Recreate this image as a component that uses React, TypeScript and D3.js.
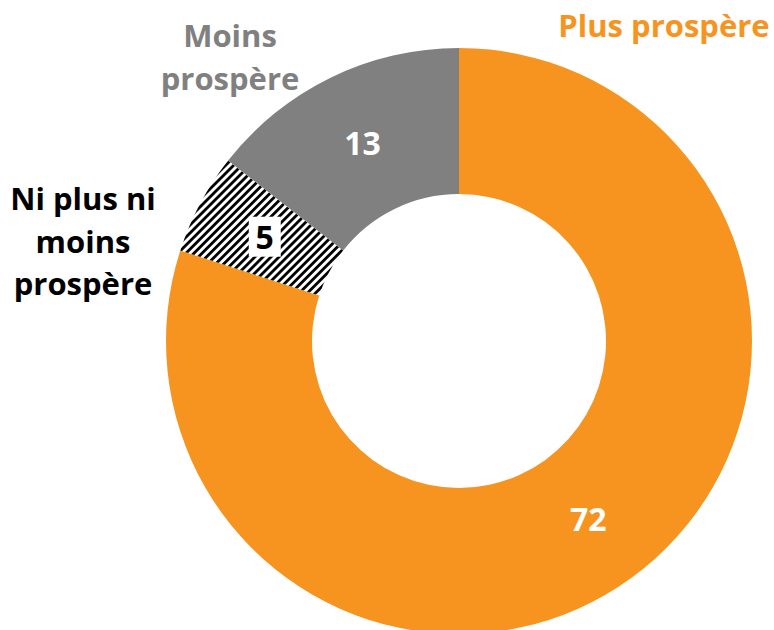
import { useMemo } from "react";
import * as d3 from "d3";

const categories = ["Plus prospère", "Ni plus ni moins prospère", "Moins prospère"];
const values = [72, 5, 13];
const labelLines = [["Plus prospère"], ["Ni plus ni", "moins", "prospère"], ["Moins", "prospère"]];

const ORANGE = "#F7941F";
const GREY = "#808080";

export default function App() {
  const width = 774;
  const height = 630;
  const cx = 459;
  const cy = 341;
  const outerR = 293;
  const innerR = 147;

  const arcs = useMemo(() => {
    const pie = d3
      .pie<number>()
      .sort(null)
      .value((d) => d);
    return pie(values);
  }, []);

  const arcGen = d3.arc<d3.PieArcDatum<number>>().innerRadius(innerR).outerRadius(outerR);

  const fills = [ORANGE, "url(#hatch)", GREY];
  const numberColors = ["#ffffff", "#000000", "#ffffff"];

  // outside labels, placed by hand like the original
  const labelPos = [
    { x: 664, y: 37, anchor: "middle", color: ORANGE },
    { x: 83, y: 210, anchor: "middle", color: "#000000" },
    { x: 230, y: 47, anchor: "middle", color: GREY },
  ];
  const lineGap = 42.5;

  const font = "'Open Sans', sans-serif";

  return (
    <svg
      width={width}
      height={height}
      style={{ position: "absolute", left: 0, top: 0, background: "#fff" }}
    >
      <defs>
        <pattern
          id="hatch"
          patternUnits="userSpaceOnUse"
          width={5.7}
          height={5.7}
          patternTransform="rotate(45)"
        >
          <rect width={5.7} height={5.7} fill="#fff" />
          <line x1={1.4} y1={0} x2={1.4} y2={5.7} stroke="#000" strokeWidth={2.8} />
        </pattern>
      </defs>

      <g transform={`translate(${cx},${cy})`}>
        {arcs.map((a, i) => (
          <path key={categories[i]} d={arcGen(a) ?? ""} fill={fills[i]} />
        ))}
        {arcs.map((a, i) => {
          const [x, y] = arcGen.centroid(a);
          return (
            <g key={`${categories[i]}-num`} transform={`translate(${x},${y})`}>
              {i === 1 && <rect x={-16} y={-21} width={32} height={40} fill="#fff" />}
              <text
                textAnchor="middle"
                dy="0.36em"
                fontFamily={font}
                fontWeight={700}
                fontSize={32}
                fill={numberColors[i]}
              >
                {values[i]}
              </text>
            </g>
          );
        })}
      </g>

      {labelLines.map((lines, i) => (
        <text
          key={`${categories[i]}-label`}
          fontFamily={font}
          fontWeight={700}
          fontSize={31}
          fill={labelPos[i].color}
          textAnchor={labelPos[i].anchor}
        >
          {lines.map((line, j) => (
            <tspan key={j} x={labelPos[i].x} y={labelPos[i].y + j * lineGap}>
              {line}
            </tspan>
          ))}
        </text>
      ))}
    </svg>
  );
}
